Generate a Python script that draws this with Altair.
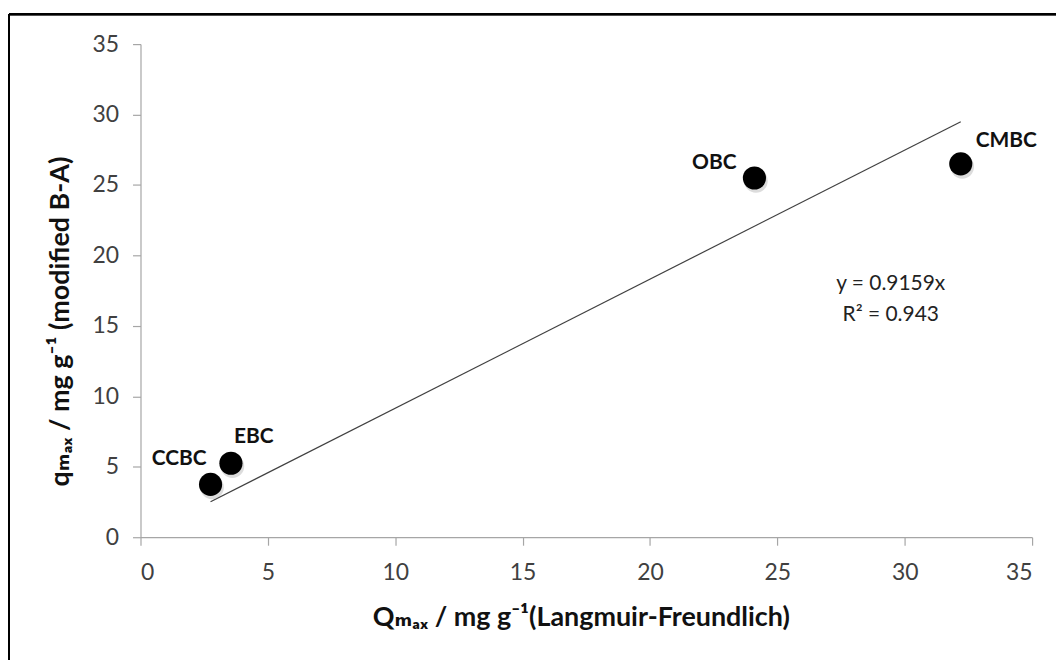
import altair as alt
import pandas as pd

# ---- data ----
names = ["CCBC", "EBC", "OBC", "CMBC"]
q_langmuir = [2.75, 3.55, 24.1, 32.2]      # Q_max (Langmuir-Freundlich)
q_modified = [3.75, 5.25, 25.5, 26.5]      # q_max (modified B-A)
slope = 0.9159
r_squared = 0.943
axis_ticks = [0, 5, 10, 15, 20, 25, 30, 35]
eq_lines = ["y = 0.9159x", "R² = 0.943"]
eq_x = [29.45, 29.45]
eq_y = [18.0, 15.8]

FONT = "Lato, DejaVu Sans, sans-serif"

pts = pd.DataFrame({"name": names, "x": q_langmuir, "y": q_modified})
trend = pd.DataFrame({"x": [min(q_langmuir), max(q_langmuir)]})
eq = pd.DataFrame({"t": eq_lines, "x": eq_x, "y": eq_y})

xs = alt.Scale(domain=[0, 35], nice=False, zero=False)
ys = alt.Scale(domain=[0, 35], nice=False, zero=False)

x_axis = alt.Axis(
    values=axis_ticks, grid=False, title="Qₘₐₓ / mg g⁻¹(Langmuir-Freundlich)",
    titleX=442, titleY=89, titleBaseline="alphabetic", titleAnchor="middle",
    labelPadding=16,
)
y_axis = alt.Axis(
    values=axis_ticks, grid=False, title="qₘₐₓ / mg g⁻¹ (modified B-A)",
    titleX=-66, titleY=278, titleAnchor="middle", labelPadding=14,
)

base = alt.Chart(pts)

line = alt.Chart(trend).transform_calculate(
    y=f"{slope} * datum.x"
).mark_line(color="#404040", strokeWidth=1.2).encode(
    x=alt.X("x:Q", scale=xs, axis=x_axis),
    y=alt.Y("y:Q", scale=ys, axis=y_axis),
)

shadow = base.mark_circle(size=560, color="#9a9a9a", opacity=0.35, xOffset=1.5, yOffset=3).encode(
    x=alt.X("x:Q", scale=xs), y=alt.Y("y:Q", scale=ys)
)
points = base.mark_circle(size=540, color="black", opacity=1).encode(
    x=alt.X("x:Q", scale=xs), y=alt.Y("y:Q", scale=ys)
)

def label(name, dx, dy, align):
    return base.transform_filter(alt.datum.name == name).mark_text(
        font=FONT, fontSize=21, fontWeight="bold", color="#111111",
        dx=dx, dy=dy, align=align, baseline="middle",
    ).encode(x=alt.X("x:Q", scale=xs), y=alt.Y("y:Q", scale=ys), text="name:N")

labels = [
    label("CCBC", -4, -25, "right"),
    label("EBC", 3, -26, "left"),
    label("OBC", -18, -15, "right"),
    label("CMBC", 15, -23, "left"),
]

eq_text = alt.Chart(eq).mark_text(
    font=FONT, fontSize=21, color="#222222", align="center", baseline="middle"
).encode(x=alt.X("x:Q", scale=xs), y=alt.Y("y:Q", scale=ys), text="t:N")

frame_left = alt.Chart(pts).mark_rule(color="black", strokeWidth=2).encode(
    x=alt.value(-132), y=alt.value(-30), y2=alt.value(720)
)
frame_top = alt.Chart(pts).mark_rule(color="black", strokeWidth=2).encode(
    x=alt.value(-132), x2=alt.value(1000), y=alt.value(-30)
)

chart = alt.layer(
    line, shadow, points, *labels, eq_text, frame_left, frame_top
).properties(
    width=895, height=495,
    autosize=alt.AutoSizeParams(type="none"),
    padding={"left": 133, "top": 35, "right": 24, "bottom": 122},
    background="white",
).configure_view(stroke=None).configure_axis(
    domainColor="#a6a6a6", tickColor="#a6a6a6", tickSize=8, domainWidth=1.2, tickWidth=1.2,
    labelFont=FONT, labelFontSize=23, labelColor="#404040",
    titleFont=FONT, titleFontSize=27, titleFontWeight="bold", titleColor="#111111",
)

chart.save("out.html", embed_options={"renderer": "svg", "actions": False})
